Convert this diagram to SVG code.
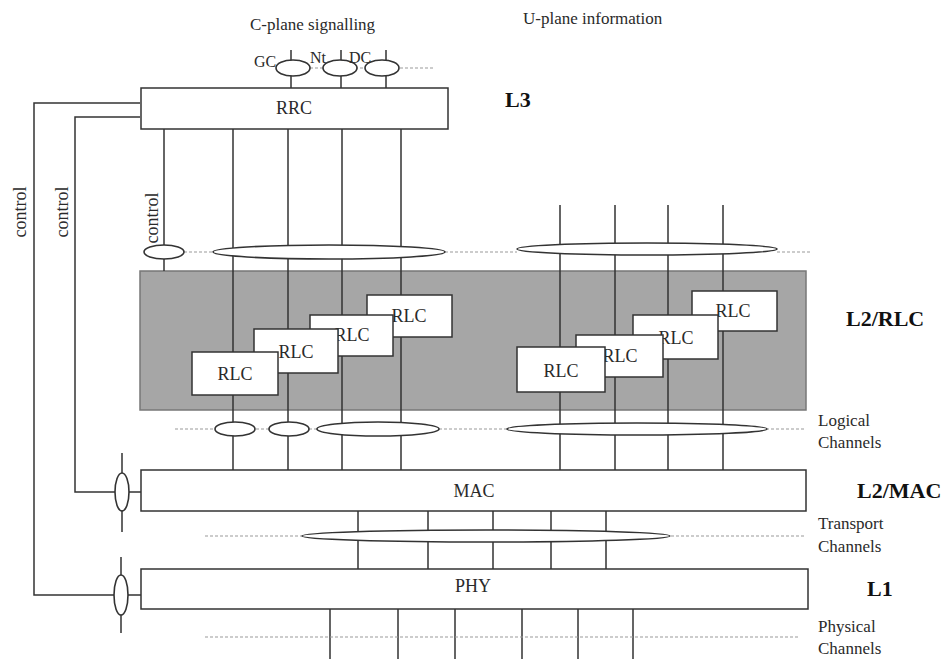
<svg xmlns="http://www.w3.org/2000/svg" width="946" height="659" viewBox="0 0 946 659">
<style>
text{font-family:"Liberation Serif","Times New Roman",serif;fill:#2a2a2a}
.t{font-size:17px}
.bx{font-size:18px}
.b{font-size:22px;font-weight:bold;fill:#111}
.m{text-anchor:middle}
.ln{stroke:#333;stroke-width:1.5;fill:none}
.dl{stroke:#999;stroke-width:1;stroke-dasharray:3 2;fill:none}
.box{fill:#fff;stroke:#333;stroke-width:1.5}
.el{fill:#fff;stroke:#333;stroke-width:1.6}
</style>
<rect width="946" height="659" fill="#fff"/>

<g id="header">
<text class="t" x="250" y="30">C-plane signalling</text>
<text class="t" x="523" y="24">U-plane information</text>
</g>

<g id="rrc-saps">
<path class="dl" d="M310 68H433"/>
<path class="ln" d="M291 50V88M341 50V88M386 50V88"/>
<ellipse class="el" cx="293" cy="68" rx="17" ry="8"/>
<ellipse class="el" cx="340" cy="68" rx="17" ry="8"/>
<ellipse class="el" cx="382" cy="68" rx="17" ry="8"/>
<text x="254" y="67" style="font-size:16px">GC</text>
<text x="310" y="63" style="font-size:16px">Nt</text>
<text x="349" y="63" style="font-size:16px">DC</text>
</g>

<g id="rlc-layer">
<rect x="140" y="271" width="666" height="139" fill="#a6a6a6" stroke="#777" stroke-width="1.5"/>
</g>

<g id="connectors">
<path class="ln" d="M140 103H34V595H115M140 117H75V492H115"/>
<path class="ln" d="M122 453V532M121 557V633M129 492H142M128 595H142"/>
<path class="ln" d="M164 129V271"/>
<path class="ln" d="M233 129V470M288 129V470M342 129V470M401 129V470"/>
<path class="ln" d="M560 205V470M615 205V470M668 205V470M723 205V470"/>
<path class="ln" d="M358 511V569M428 511V569M493 511V569M551 511V569M606 511V569"/>
<path class="ln" d="M330 609V659M398 609V659M455 609V659M522 609V659M578 609V659M633 609V659"/>
<path class="dl" d="M184 252H213M445 252H517M777 252H810"/>
<path class="dl" d="M175 429H215M256 429H269M309 429H318M439 429H508M766 429H806"/>
<path class="dl" d="M205 536H302M671 536H806"/>
<path class="dl" d="M205 637H800"/>
</g>

<g id="ellipses">
<ellipse class="el" cx="164" cy="252" rx="20" ry="7"/>
<ellipse class="el" cx="329" cy="252" rx="116" ry="7"/>
<ellipse class="el" cx="647" cy="249" rx="130" ry="6"/>
<ellipse class="el" cx="235" cy="429" rx="20" ry="7"/>
<ellipse class="el" cx="289" cy="429" rx="20" ry="7"/>
<ellipse class="el" cx="378" cy="429" rx="61" ry="7"/>
<ellipse class="el" cx="637" cy="429" rx="130" ry="6"/>
<ellipse class="el" cx="486" cy="536" rx="184" ry="6"/>
<ellipse class="el" cx="122" cy="492" rx="7" ry="19"/>
<ellipse class="el" cx="121" cy="595" rx="7" ry="20"/>
</g>

<g id="rrc">
<rect class="box" x="141" y="88" width="307" height="41"/>
<text class="bx m" x="294" y="114">RRC</text>
</g>

<g id="rlc-left-4"><rect class="box" x="367" y="295" width="85" height="42"/><text class="bx m" x="409" y="322">RLC</text></g>
<g id="rlc-left-3"><rect class="box" x="310" y="315" width="83" height="41"/><text class="bx m" x="352" y="341">RLC</text></g>
<g id="rlc-left-2"><rect class="box" x="254" y="329" width="84" height="44"/><text class="bx m" x="296" y="358">RLC</text></g>
<g id="rlc-left-1"><rect class="box" x="192" y="352" width="86" height="43"/><text class="bx m" x="235" y="380">RLC</text></g>

<g id="rlc-right-4"><rect class="box" x="692" y="291" width="85" height="40"/><text class="bx m" x="733" y="317">RLC</text></g>
<g id="rlc-right-3"><rect class="box" x="633" y="315" width="85" height="44"/><text class="bx m" x="676" y="344">RLC</text></g>
<g id="rlc-right-2"><rect class="box" x="576" y="335" width="87" height="42"/><text class="bx m" x="620" y="362">RLC</text></g>
<g id="rlc-right-1"><rect class="box" x="517" y="347" width="88" height="45"/><text class="bx m" x="561" y="377">RLC</text></g>

<g id="mac">
<rect class="box" x="141" y="470" width="665" height="41"/>
<text class="bx m" x="474" y="497">MAC</text>
</g>

<g id="phy">
<rect class="box" x="141" y="569" width="667" height="40"/>
<text class="bx m" x="473" y="592">PHY</text>
</g>

<g id="labels">
<text class="t" transform="translate(26,212) rotate(-90)" text-anchor="middle" style="font-size:18px">control</text>
<text class="t" transform="translate(68,212) rotate(-90)" text-anchor="middle" style="font-size:18px">control</text>
<text class="t" transform="translate(158,218) rotate(-90)" text-anchor="middle" style="font-size:18px">control</text>
<text class="b" x="505" y="107">L3</text>
<text class="b" x="846" y="326">L2/RLC</text>
<text class="b" x="857" y="498">L2/MAC</text>
<text class="b" x="867" y="596">L1</text>
<text class="t" x="818" y="426">Logical</text>
<text class="t" x="818" y="448">Channels</text>
<text class="t" x="818" y="529">Transport</text>
<text class="t" x="818" y="552">Channels</text>
<text class="t" x="818" y="632">Physical</text>
<text class="t" x="818" y="654">Channels</text>
</g>
</svg>
